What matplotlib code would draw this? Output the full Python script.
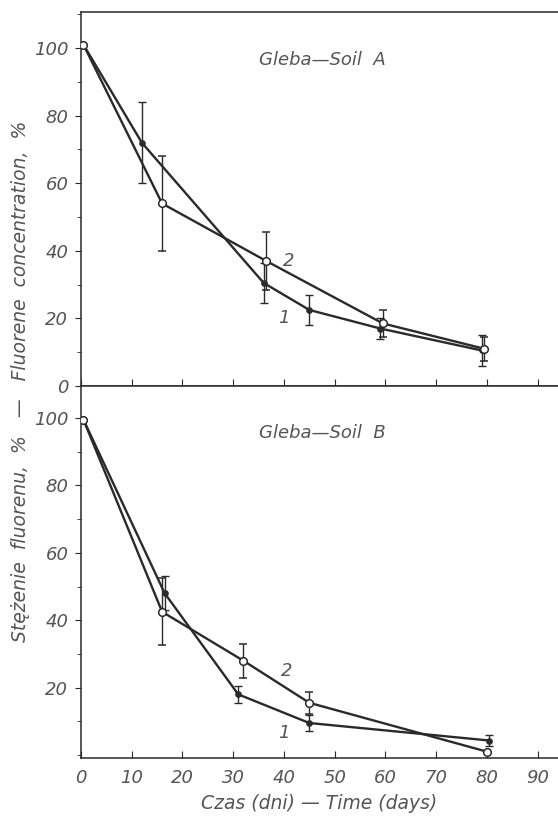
import matplotlib
matplotlib.use('Agg')
import matplotlib.pyplot as plt
from matplotlib import font_manager
from matplotlib.ticker import MultipleLocator

# узкий шрифт, если есть
installed = {f.name for f in font_manager.fontManager.ttflist}
FONT = 'Liberation Sans Narrow' if 'Liberation Sans Narrow' in installed else 'DejaVu Sans'
FS = 15 if FONT != 'DejaVu Sans' else 13

plt.rcParams['font.family'] = [FONT, 'DejaVu Sans']
plt.rcParams['font.style'] = 'italic'

INK = '#2a2a2a'
TXT = '#555555'

# Gleba A (Soil A)
a1_x = [0.5, 12, 36, 45, 59, 79]
a1_y = [101, 72, 30.5, 22.5, 17, 10.5]
a1_err = [0, 12, 6, 4.5, 3, 4.5]
a2_x = [0.5, 16, 36.5, 59.5, 79.5]
a2_y = [101, 54, 37, 18.5, 11]
a2_err = [0, 14, 8.5, 4, 3.5]

# Gleba B (Soil B)
b1_x = [0.5, 16.5, 31, 45, 80.5]
b1_y = [99.5, 48, 18, 9.5, 4.3]
b1_err = [0, 5, 2.5, 2.3, 1.7]
b2_x = [0.5, 16, 32, 45, 80]
b2_y = [99.5, 42.5, 28, 15.5, 1]
b2_err = [0, 10, 5, 3.3, 0]

x_ticks = [0, 10, 20, 30, 40, 50, 60, 70, 80, 90]

fig = plt.figure(figsize=(5.58, 8.16), dpi=100)
ax_a = fig.add_axes([0.145, 0.527, 0.855, 0.458])
ax_b = fig.add_axes([0.145, 0.071, 0.855, 0.456])


def draw_panel(ax, s1, s2, title, ylim, ylabels, lbl2, lbl1):
    x1, y1, e1 = s1
    x2, y2, e2 = s2
    ax.errorbar(x1, y1, yerr=e1, color=INK, lw=1.7, ecolor=INK, elinewidth=1.0,
                capsize=3, capthick=1.0, marker='o', ms=3.8, mfc=INK, mec=INK,
                zorder=3)
    ax.errorbar(x2, y2, yerr=e2, color=INK, lw=1.7, ecolor=INK, elinewidth=1.0,
                capsize=3, capthick=1.0, marker='o', ms=5.5, mfc='white', mec=INK,
                mew=1.1, zorder=4)
    ax.set_xlim(0, 94)
    ax.set_ylim(*ylim)
    ax.spines['right'].set_visible(False)
    for s in ('left', 'top', 'bottom'):
        ax.spines[s].set_color(INK)
        ax.spines[s].set_linewidth(1.1)
    ax.set_yticks(ylabels)
    ax.yaxis.set_minor_locator(MultipleLocator(10))
    ax.xaxis.set_major_locator(MultipleLocator(10))
    ax.tick_params(axis='y', which='major', direction='out', length=4,
                   labelsize=FS, labelcolor=TXT, color=INK, pad=5)
    ax.tick_params(axis='y', which='minor', direction='out', length=3, color=INK)
    ax.tick_params(axis='x', which='major', direction='in', length=5,
                   labelsize=FS, labelcolor=TXT, color=INK, pad=8)
    ax.text(47.5, ylim[1] - 14, title, ha='center', va='center', fontsize=FS,
            color=TXT)
    ax.text(lbl2[0], lbl2[1], '2', ha='center', va='center', fontsize=FS, color=TXT)
    ax.text(lbl1[0], lbl1[1], '1', ha='center', va='center', fontsize=FS, color=TXT)


draw_panel(ax_a, (a1_x, a1_y, a1_err), (a2_x, a2_y, a2_err), 'Gleba—Soil  A',
           (0, 110.6), [0, 20, 40, 60, 80, 100], (41, 37), (40, 20))
ax_a.tick_params(axis='x', labelbottom=False)

draw_panel(ax_b, (b1_x, b1_y, b1_err), (b2_x, b2_y, b2_err), 'Gleba—Soil  B',
           (-0.9, 109.5), [20, 40, 60, 80, 100], (40.5, 25), (40, 6.5))
ax_b.set_xticks(x_ticks)
ax_b.set_xlabel('Czas (dni) — Time (days)', fontsize=FS + 0.5, color=TXT,
                labelpad=5)

fig.text(0.036, 0.533, 'Stężenie  fluorenu,  %   —   Fluorene  concentration,  %',
         rotation=90, ha='center', va='center', fontsize=FS + 0.5, color=TXT)

fig.savefig('out.png', dpi=100, facecolor='white')
